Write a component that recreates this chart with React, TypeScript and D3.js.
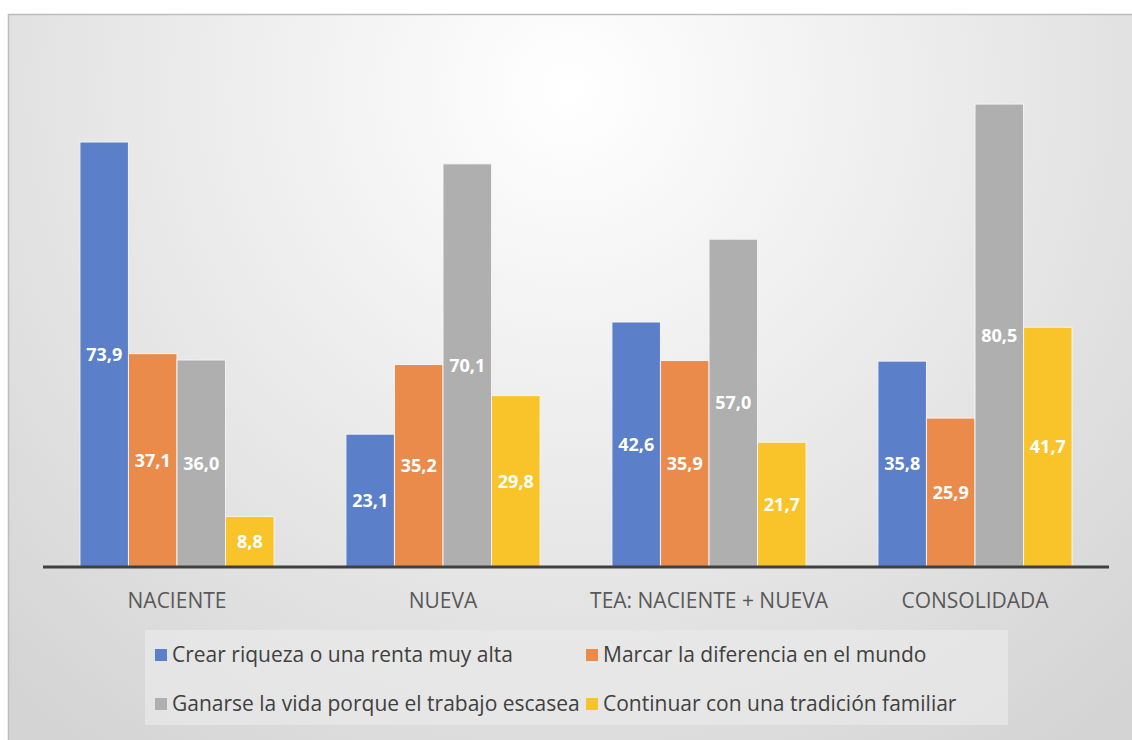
import React from 'react';
import * as d3 from 'd3';

const categories = ['NACIENTE', 'NUEVA', 'TEA: NACIENTE + NUEVA', 'CONSOLIDADA'];
const seriesNames = [
  'Crear riqueza o una renta muy alta',
  'Marcar la diferencia en el mundo',
  'Ganarse la vida porque el trabajo escasea',
  'Continuar con una tradición familiar',
];
const riqueza = [73.9, 23.1, 42.6, 35.8];
const diferencia = [37.1, 35.2, 35.9, 25.9];
const ganarse = [36.0, 70.1, 57.0, 80.5];
const tradicion = [8.8, 29.8, 21.7, 41.7];
const seriesValues = [riqueza, diferencia, ganarse, tradicion];
const colors = ['#5b7fc8', '#ea8b4b', '#afafaf', '#f9c42a'];

const W = 1132;
const H = 740;
const baseY = 567;
const font = '"Open Sans", "Liberation Sans", sans-serif';

export default function App() {
  const x0 = d3.scaleBand<string>().domain(categories).range([44, 1108]).paddingInner(0.27).paddingOuter(0.135);
  const x1 = d3.scaleBand<number>().domain(d3.range(seriesNames.length)).range([0, x0.bandwidth()]);
  const y = d3.scaleLinear().domain([0, 73.9]).range([baseY, 142]);
  const fmt = (v: number) => v.toFixed(1).replace('.', ',');

  const legendCols = [155, 586];
  const legendRows = [655, 704];

  return (
    <svg width={W} height={H} style={{ position: 'absolute', left: 0, top: 0 }}>
      <defs>
        <radialGradient id="bg" gradientUnits="userSpaceOnUse" cx={570} cy={90} r={820}>
          <stop offset="0" stopColor="#ffffff" />
          <stop offset="1" stopColor="#d4d4d4" />
        </radialGradient>
      </defs>
      <rect x={0} y={0} width={W} height={H} fill="#ffffff" />
      <rect x={8.5} y={14.5} width={W + 10} height={H + 10} fill="url(#bg)" stroke="#bdbdbd" strokeWidth={1.5} />

      {categories.map((c, ci) => (
        <g key={c} transform={`translate(${x0(c)},0)`}>
          {seriesValues.map((vals, si) => {
            const v = vals[ci];
            const bx = x1(si) ?? 0;
            const top = y(v);
            return (
              <g key={si}>
                <rect x={bx} y={top} width={x1.bandwidth()} height={baseY - top} fill={colors[si]} stroke="#f4f4f4" strokeWidth={1} />
                <text
                  x={bx + x1.bandwidth() / 2}
                  y={(top + baseY) / 2}
                  dy="0.35em"
                  textAnchor="middle"
                  fill="#ffffff"
                  fontFamily={font}
                  fontWeight="bold"
                  fontSize={18}
                >
                  {fmt(v)}
                </text>
              </g>
            );
          })}
          <text
            x={x0.bandwidth() / 2}
            y={601}
            dy="0.35em"
            textAnchor="middle"
            fill="#595959"
            fontFamily={font}
            fontSize={21}
          >
            {c}
          </text>
        </g>
      ))}

      <line x1={43} x2={1109} y1={baseY} y2={baseY} stroke="#404040" strokeWidth={3} />

      <rect x={145} y={630} width={863} height={95} fill="#e9e9e9" opacity={0.7} />
      {seriesNames.map((name, i) => {
        const lx = legendCols[i % 2];
        const ly = legendRows[Math.floor(i / 2)];
        return (
          <g key={name}>
            <rect x={lx} y={ly - 6} width={12} height={12} fill={colors[i]} />
            <text x={lx + 17} y={ly} dy="0.35em" fill="#404040" fontFamily={font} fontSize={21}>
              {name}
            </text>
          </g>
        );
      })}
    </svg>
  );
}
